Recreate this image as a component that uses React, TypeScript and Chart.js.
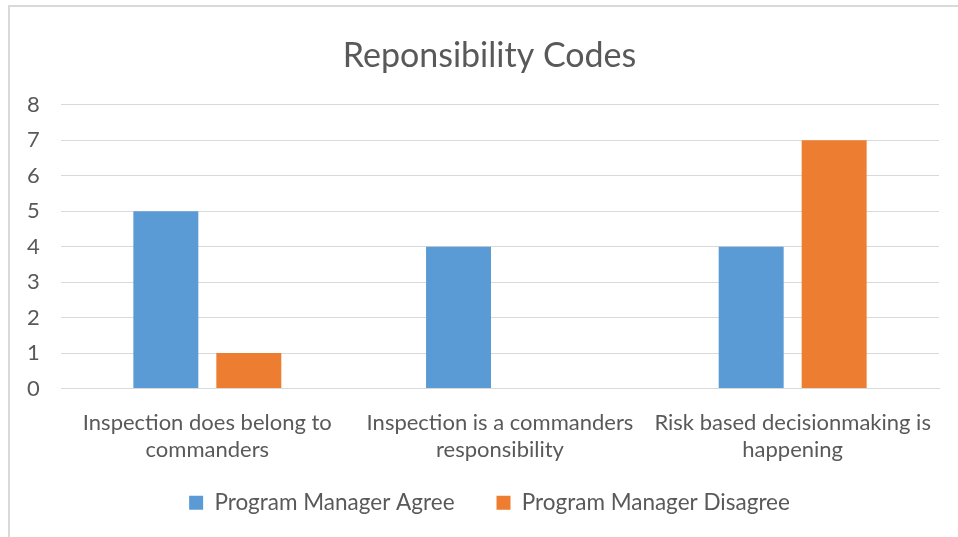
import React, { useEffect, useRef } from "react";
import { Chart, registerables } from "chart.js";

Chart.register(...registerables);

const categories: string[][] = [
  ["Inspection does belong to", "commanders"],
  ["Inspection is a commanders", "responsibility"],
  ["Risk based decisionmaking is", "happening"],
];
const seriesNames = ["Program Manager Agree", "Program Manager Disagree"];
const agreeValues = [5, 4, 4];
const disagreeValues = [1, 0, 7];
const yTicks = [0, 1, 2, 3, 4, 5, 6, 7, 8];
const titleText = "Reponsibility Codes";

const FONT = "Lato, 'Open Sans', sans-serif";
const TEXT = "#595959";
const GRID = "#D9D9D9";
const LEGEND_PAD = 42;

export default function App() {
  const ref = useRef<HTMLCanvasElement | null>(null);
  useEffect(() => {
    if (!ref.current) return;
    const chart = new Chart(ref.current, {
      type: "bar",
      data: {
        labels: categories,
        datasets: [
          {
            label: seriesNames[0],
            data: agreeValues,
            backgroundColor: "#5B9BD5",
            categoryPercentage: 0.567,
            barPercentage: 0.783,
          },
          {
            label: seriesNames[1],
            data: disagreeValues,
            backgroundColor: "#ED7D31",
            categoryPercentage: 0.567,
            barPercentage: 0.783,
          },
        ],
      },
      options: {
        animation: false,
        responsive: false,
        maintainAspectRatio: false,
        layout: { padding: { left: 40, right: 19, top: 0, bottom: 13 } },
        plugins: {
          title: {
            display: true,
            text: titleText,
            color: TEXT,
            font: { family: FONT, size: 34, weight: "normal" },
            padding: { top: 36, bottom: 28 },
          },
          legend: {
            position: "bottom",
            labels: {
              color: TEXT,
              font: { family: FONT, size: 22.5 },
              boxWidth: 14,
              boxHeight: 14,
              padding: LEGEND_PAD,
            },
          },
          tooltip: { enabled: false },
        },
        scales: {
          x: {
            afterFit: (s: any) => {
              s.height = 103 - LEGEND_PAD;
            },
            grid: { display: false, drawTicks: false },
            border: { color: GRID, width: 1 },
            ticks: {
              mirror: true,
              color: TEXT,
              font: { family: FONT, size: 22, lineHeight: 1.23 },
              padding: -48,
              maxRotation: 0,
              autoSkip: false,
            },
          },
          y: {
            min: 0,
            max: 8,
            afterFit: (s: any) => {
              s.width = 21;
            },
            afterBuildTicks: (s: any) => {
              s.ticks = yTicks.map((v) => ({ value: v }));
            },
            grid: { color: GRID, lineWidth: 1, drawTicks: false },
            border: { display: false },
            ticks: {
              mirror: true,
              color: TEXT,
              font: { family: FONT, size: 22 },
              padding: -34,
              stepSize: 1,
            },
          },
        },
      },
    });
    return () => chart.destroy();
  }, []);
  return (
    <div style={{ position: "relative", width: 958, height: 537, background: "#fff" }}>
      <style>{`body{margin:0}`}</style>
      <canvas ref={ref} width={958} height={537} style={{ position: "absolute", left: 0, top: 0 }} />
      <div style={{ position: "absolute", left: 8, top: 5, width: 950, height: 2, background: GRID }} />
      <div style={{ position: "absolute", left: 8, top: 5, width: 2, height: 532, background: GRID }} />
    </div>
  );
}
